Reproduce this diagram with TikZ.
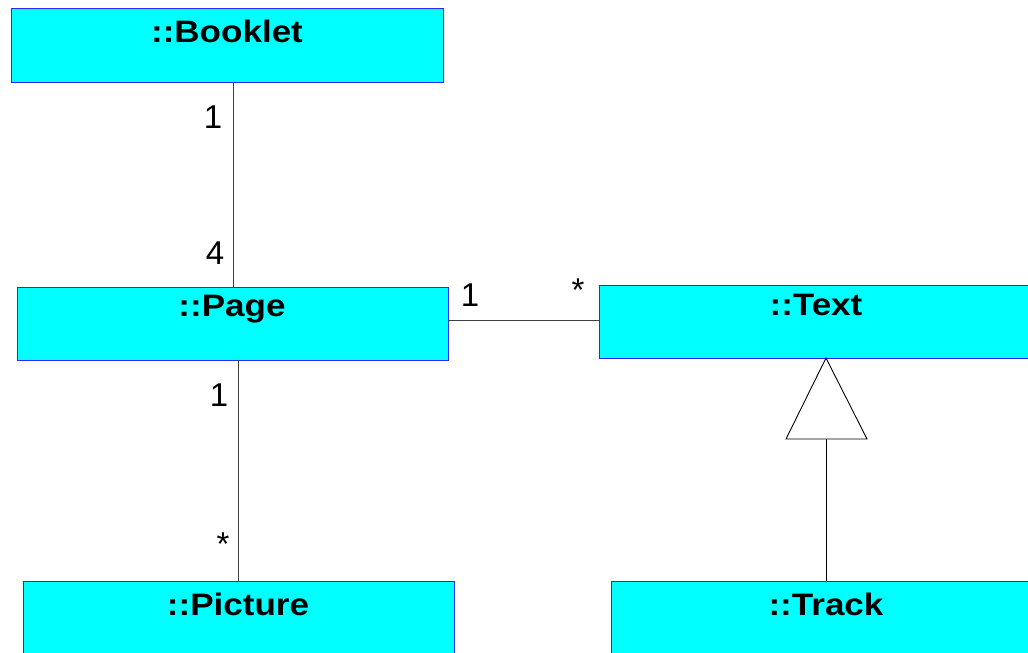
\documentclass[tikz,border=0pt]{standalone}
\usepackage{fontspec}
\setmainfont{Liberation Sans}
\newfontfamily\titlefont{Liberation Sans}[FakeStretch=1.13]
\definecolor{boxfill}{RGB}{0,255,255}
\definecolor{boxline}{RGB}{40,40,255}
\definecolor{linegray}{RGB}{64,64,64}
\begin{document}
\begin{tikzpicture}[x=1pt,y=-1pt,
  classbox/.style={draw=boxline,line width=1.1pt,fill=boxfill,rectangle,anchor=north west,inner sep=0pt},
  titletext/.style={font=\titlefont\bfseries\fontsize{31}{31}\selectfont,inner sep=0pt,anchor=center},
  mult/.style={font=\fontsize{33}{33}\selectfont,inner sep=0pt,anchor=center},
  assoc/.style={draw=linegray,line width=0.9pt},
  gen/.style={draw=black,line width=0.9pt}]
\useasboundingbox (0,0) rectangle (1028,653);
% boxes
\node[classbox,minimum width=432pt,minimum height=74pt] (booklet) at (11,8) {};
\node[classbox,minimum width=431pt,minimum height=73pt] (page) at (17,287) {};
\node[classbox,minimum width=434pt,minimum height=73pt] (text) at (599,285) {};
\node[classbox,minimum width=431pt,minimum height=74pt] (picture) at (23,581) {};
\node[classbox,minimum width=430pt,minimum height=74pt] (track) at (611,581) {};
% titles
\node[titletext] (tbooklet) at (227,31) {::Booklet};
\node[titletext] (tpage) at (232,309) {::Page};
\node[titletext] (ttext) at (816,305) {::Text};
\node[titletext] (tpicture) at (238,604) {::Picture};
\node[titletext] (ttrack) at (826,604) {::Track};
% associations
\coordinate (bk) at (233,82);
\coordinate (pg) at (233,287);
\draw[assoc] (bk) -- (pg);
\coordinate (pgr) at (448,320);
\coordinate (txl) at (599,320);
\draw[assoc] (pgr) -- (txl);
\coordinate (pgb) at (238,360);
\coordinate (pct) at (238,581);
\draw[assoc] (pgb) -- (pct);
% generalization
\coordinate (apex) at (826,358);
\coordinate (bl) at (786,439);
\coordinate (br) at (867,439);
\coordinate (bm) at (826,439);
\coordinate (trt) at (826,581);
\draw[gen,fill=white] (apex) -- (br) -- (bl) -- cycle;
\draw[gen] (bm) -- (trt);
% multiplicities
\node[mult] (m1) at (213,117) {1};
\node[mult] (m2) at (215,253) {4};
\node[mult] (m3) at (470,295) {1};
\node[mult] (m4) at (578,290) {*};
\node[mult] (m5) at (219,395) {1};
\node[mult] (m6) at (223,544) {*};
\end{tikzpicture}
\end{document}
